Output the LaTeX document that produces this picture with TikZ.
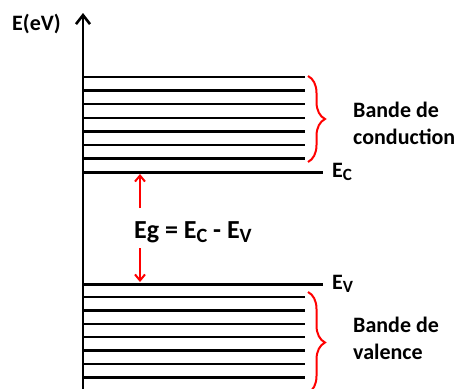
\documentclass[tikz,border=0pt]{standalone}
\usepackage{fontspec}
\setmainfont{Carlito}
\usetikzlibrary{arrows.meta,decorations.pathreplacing}
\newcommand{\sbx}[1]{\raisebox{-0.3ex}{\scalebox{0.78}{#1}}}
\tikzset{
  level/.style={line width=2.4pt},
  axisline/.style={line width=2.8pt,-{Straight Barb[length=9pt,width=14pt,line width=2.6pt]}},
  gaparrow/.style={red,line width=2pt,-{Straight Barb[length=6pt,width=10pt,line width=2pt]}},
  bandbrace/.style={red,line width=2pt,decorate,decoration={brace,amplitude=17pt}},
  lbl/.style={font=\fontsize{22}{27}\selectfont\bfseries,inner sep=0pt},
  biglbl/.style={font=\fontsize{26}{30}\selectfont\bfseries,inner sep=0pt},
}
\begin{document}
\begin{tikzpicture}[x=1pt,y=-1pt]
\useasboundingbox (0,0) rectangle (460,388);
% axis
\coordinate (axb) at (83,392);
\coordinate (axt) at (83,13);
\draw[axisline] (axb) -- (axt);
\node[lbl,anchor=west] (elabel) at (12,24) {E(eV)};
% conduction band levels
\foreach \y in {77,90.6,104.2,117.8,131.4,145,158.6} {
  \draw[level] (84,\y) -- (305,\y);
}
\coordinate (ecl) at (84,172.3);
\coordinate (ecr) at (323,172.3);
\draw[level] (ecl) -- (ecr);
\node[lbl,anchor=west] (ec) at (332,172) {E\sbx{C}};
% valence band levels
\coordinate (evl) at (84,284.5);
\coordinate (evr) at (323,284.5);
\draw[level] (evl) -- (evr);
\node[lbl,anchor=west] (ev) at (332,284) {E\sbx{V}};
\foreach \y in {297,310.4,323.8,337.2,350.6,364,377.4} {
  \draw[level] (84,\y) -- (305,\y);
}
% braces
\coordinate (cbt) at (308,76);
\coordinate (cbb) at (308,162);
\draw[bandbrace] (cbt) -- (cbb);
\node[lbl,anchor=west,align=left] (cond) at (353,123) {Bande de\\conduction};
\coordinate (vbt) at (308,292);
\coordinate (vbb) at (308,393);
\draw[bandbrace] (vbt) -- (vbb);
\node[lbl,anchor=west,align=left] (val) at (353,338) {Bande de\\valence};
% gap
\node[biglbl,anchor=west] (eg) at (134,232) {Eg = E\sbx{C} - E\sbx{V}};
\coordinate (upt) at (140,208);
\coordinate (uph) at (140,174);
\coordinate (dnt) at (140,248);
\coordinate (dnh) at (140,282);
\draw[gaparrow] (upt) -- (uph);
\draw[gaparrow] (dnt) -- (dnh);
\end{tikzpicture}
\end{document}
